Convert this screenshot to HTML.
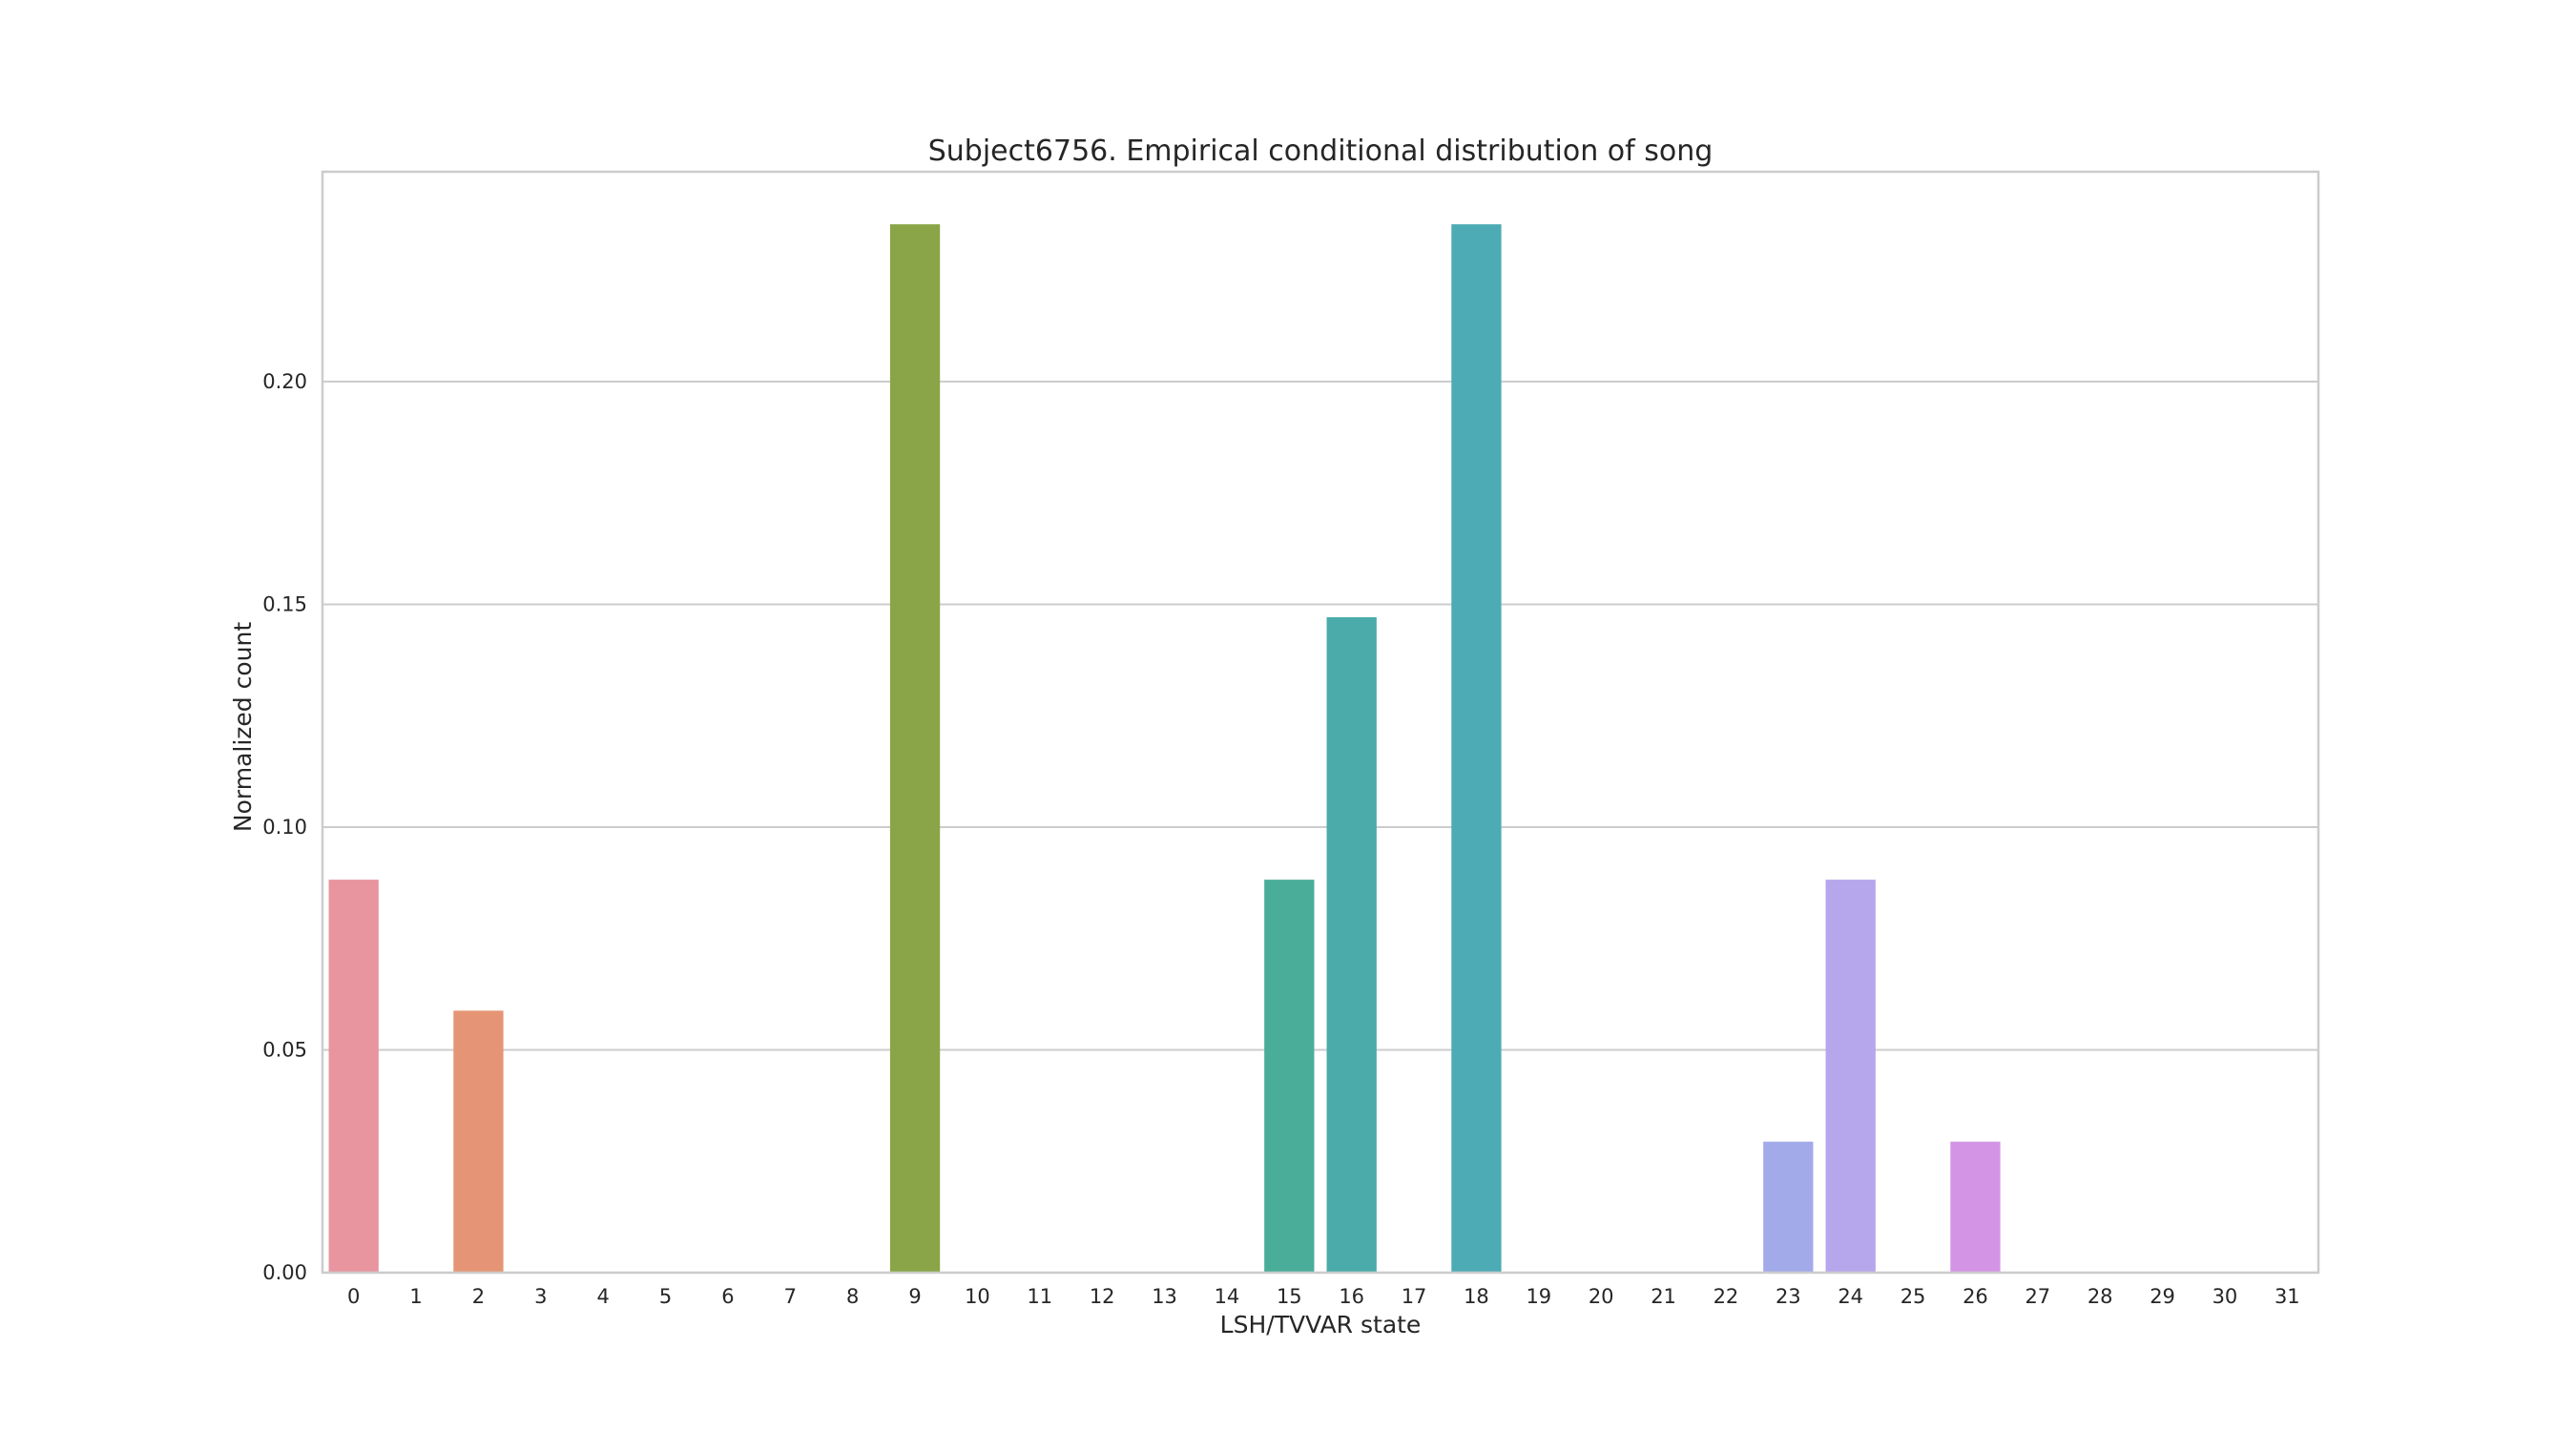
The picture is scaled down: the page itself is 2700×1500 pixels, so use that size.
<!DOCTYPE html>
<html><head><meta charset="utf-8"><style>
html,body{margin:0;padding:0;background:#fff;}
svg{display:block;font-family:"DejaVu Sans","Liberation Sans",sans-serif;}
</style></head><body>
<svg id="chart" width="2700" height="1500" viewBox="0 0 2700 1500" xmlns="http://www.w3.org/2000/svg">
<rect width="2700" height="1500" fill="#fff"/>
<g id="grid"></g>
<g id="bars"></g>
<rect x="338" y="180" width="2092" height="1154" fill="none" stroke="#cccccc" stroke-width="2.5"/>
<g id="yticks"></g>
<g id="xticks"></g>
<text x="1384" y="168" text-anchor="middle" font-size="30" fill="#262626">Subject6756. Empirical conditional distribution of song</text>
<text x="1384" y="1397" text-anchor="middle" font-size="25" fill="#262626">LSH/TVVAR state</text>
<text transform="translate(263,762) rotate(-90)" text-anchor="middle" font-size="25" fill="#262626">Normalized count</text>
</svg>
<script>
const categories = Array.from({length:32},(_,i)=>String(i));
const values = [0.0882,0,0.0588,0,0,0,0,0,0,0.2353,0,0,0,0,0,0.0882,0.1471,0,0.2353,0,0,0,0,0.0294,0.0882,0,0.0294,0,0,0,0,0];
const colors = ["#e8959f","#e8968c","#e59575","#df9860","#d09c57","#c1a04e","#b2a346","#a3a645","#94a744","#8aa547","#80a84a","#73aa4f","#67ab59","#5aac6b","#52ad80","#4aad9a","#4babab","#4cabb0","#4dabb5","#4fa9c0","#55a6ca","#63a3d6","#81a4e0","#a3aaea","#b6a6ec","#c69fea","#d494e6","#de8fdc","#e48fcc","#e790bd","#e891b0","#e893a5"];
const yTicks = [0,0.05,0.10,0.15,0.20];
const yTickLabels = ["0.00","0.05","0.10","0.15","0.20"];
const NS="http://www.w3.org/2000/svg";
const L=338,R=2430,T=180,B=1334,YMAX=0.2471;
const band=(R-L)/categories.length;
const xc=i=>L+band*(i+0.5);
const y=v=>B-(v/YMAX)*(B-T);
function mk(tag,attrs,parent){const e=document.createElementNS(NS,tag);for(const k in attrs)e.setAttribute(k,attrs[k]);parent.appendChild(e);return e;}
const g=document.getElementById('grid'),bg=document.getElementById('bars'),yt=document.getElementById('yticks'),xt=document.getElementById('xticks');
yTicks.forEach((t,i)=>{
  const ln=mk('line',{x1:L,x2:R,y1:y(t),y2:y(t),stroke:'#cccccc','stroke-width':2},g);
  
  
  const tx=mk('text',{x:322,y:y(t)+7,'text-anchor':'end','font-size':21,fill:'#262626'},yt);
  tx.textContent=yTickLabels[i];
  
  
});
categories.forEach((c,i)=>{
  const w=band*0.8;
  if(values[i]>0){
    const r=mk('rect',{x:xc(i)-w/2,y:y(values[i]),width:w,height:B-y(values[i]),fill:colors[i]},bg);
    
    
  }
  const tx=mk('text',{x:xc(i),y:1366,'text-anchor':'middle','font-size':21,fill:'#262626'},xt);
  tx.textContent=c;
  
  
});
</script>
</body></html>
